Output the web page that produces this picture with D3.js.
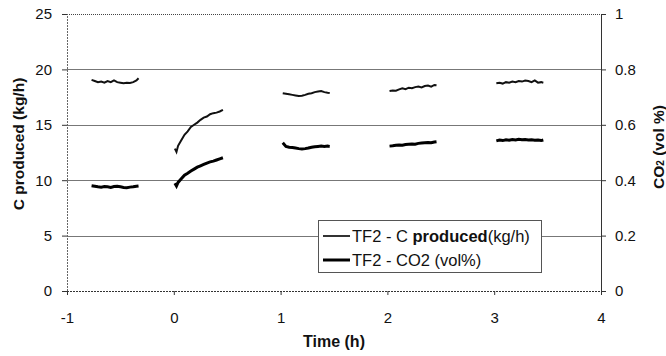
<!DOCTYPE html>
<html>
<head>
<meta charset="utf-8">
<script src="https://cdn.jsdelivr.net/npm/d3@7"></script>
<style>
  body { margin: 0; background: #fff; }
  text { font-family: "Liberation Sans", Arial, sans-serif; fill: #111; }
</style>
</head>
<body>
<div id="chart"></div>
<script>
// Time of each sample run (h)
var runTimes = [
  [-0.77, -0.74, -0.71, -0.68, -0.65, -0.62, -0.59, -0.56, -0.53, -0.50, -0.47, -0.44, -0.41, -0.38, -0.35, -0.33],
  [0.01, 0.025, 0.04, 0.07, 0.10, 0.13, 0.16, 0.19, 0.22, 0.25, 0.28, 0.31, 0.34, 0.37, 0.40, 0.43, 0.46],
  [1.02, 1.05, 1.08, 1.11, 1.14, 1.17, 1.20, 1.23, 1.26, 1.29, 1.32, 1.35, 1.38, 1.41, 1.44, 1.46],
  [2.02, 2.05, 2.08, 2.11, 2.14, 2.17, 2.20, 2.23, 2.26, 2.29, 2.32, 2.35, 2.38, 2.41, 2.44, 2.46],
  [3.02, 3.05, 3.08, 3.11, 3.14, 3.17, 3.20, 3.23, 3.26, 3.29, 3.32, 3.35, 3.38, 3.41, 3.44, 3.46]
];

// TF2 - C produced (kg/h), left axis
var cProduced = [
  [19.05, 18.95, 18.85, 18.9, 18.8, 18.95, 18.85, 19.0, 18.85, 18.8, 18.75, 18.8, 18.78, 18.85, 19.0, 19.2],
  [12.85, 12.55, 13.1, 13.6, 14.1, 14.4, 14.8, 15.0, 15.2, 15.45, 15.65, 15.75, 15.95, 16.05, 16.1, 16.2, 16.35],
  [17.85, 17.8, 17.75, 17.7, 17.65, 17.6, 17.62, 17.7, 17.8, 17.85, 17.95, 18.0, 18.05, 17.95, 17.9, 17.88],
  [18.05, 18.1, 18.08, 18.2, 18.3, 18.22, 18.35, 18.3, 18.4, 18.45, 18.38, 18.5, 18.55, 18.45, 18.6, 18.58],
  [18.75, 18.8, 18.72, 18.85, 18.8, 18.9, 18.85, 18.95, 18.9, 19.0, 18.95, 18.85, 19.0, 18.8, 18.85, 18.8]
];

// TF2 - CO2 (vol%), right axis
var co2 = [
  [0.380, 0.378, 0.376, 0.375, 0.377, 0.376, 0.374, 0.377, 0.378, 0.376, 0.374, 0.373, 0.375, 0.376, 0.378, 0.379],
  [0.389, 0.379, 0.392, 0.405, 0.418, 0.425, 0.433, 0.440, 0.447, 0.452, 0.457, 0.462, 0.466, 0.469, 0.473, 0.477, 0.481],
  [0.535, 0.522, 0.519, 0.518, 0.516, 0.514, 0.513, 0.514, 0.516, 0.519, 0.521, 0.522, 0.523, 0.522, 0.523, 0.522],
  [0.523, 0.524, 0.526, 0.527, 0.526, 0.529, 0.530, 0.531, 0.530, 0.533, 0.534, 0.535, 0.536, 0.535, 0.538, 0.539],
  [0.542, 0.545, 0.543, 0.546, 0.544, 0.547, 0.545, 0.548, 0.546, 0.547, 0.545, 0.546, 0.544, 0.545, 0.543, 0.545]
];

// Tick values
var xTicks = [-1, 0, 1, 2, 3, 4];
var yLeftTicks = [0, 5, 10, 15, 20, 25];
var yRightTicks = [0, 0.2, 0.4, 0.6, 0.8, 1];

var svgWidth = 666;
var svgHeight = 356;
var margin = { top: 14, right: 65, bottom: 65, left: 67 };
var width = svgWidth - margin.left - margin.right;
var height = svgHeight - margin.top - margin.bottom;

var svg = d3.select("#chart")
  .append("svg")
  .attr("width", svgWidth)
  .attr("height", svgHeight);

var chartGroup = svg.append("g")
  .attr("transform", `translate(${margin.left}, ${margin.top})`);

// scales
var xScale = d3.scaleLinear().domain([-1, 4]).range([0, width]);
var yLeft = d3.scaleLinear().domain([0, 25]).range([height, 0]);
var yRight = d3.scaleLinear().domain([0, 1]).range([height, 0]);

// horizontal gridlines
chartGroup.selectAll(".grid")
  .data(yLeftTicks.filter(d => d > 0 && d < 25))
  .enter()
  .append("line")
  .attr("x1", 0)
  .attr("x2", width)
  .attr("y1", d => Math.round(yLeft(d)) + 0.5)
  .attr("y2", d => Math.round(yLeft(d)) + 0.5)
  .attr("stroke", "#777")
  .attr("stroke-width", 1);

// top border (dotted)
chartGroup.append("line")
  .attr("x1", 0).attr("x2", width)
  .attr("y1", 0.5).attr("y2", 0.5)
  .attr("stroke", "#444")
  .attr("stroke-dasharray", "1,1");

// axes
var bottomAxis = d3.axisBottom(xScale).tickValues(xTicks).tickSize(4).tickPadding(17).tickFormat(d => String(d));
var leftAxis = d3.axisLeft(yLeft).tickValues(yLeftTicks).tickSize(5).tickPadding(10);
var rightAxis = d3.axisRight(yRight).tickValues(yRightTicks).tickSize(5).tickPadding(9).tickFormat(d => d === 0 || d === 1 ? d : d.toFixed(1));

var xAxis = chartGroup.append("g")
  .attr("transform", `translate(0, ${height})`)
  .call(bottomAxis);

var yAxisLeft = chartGroup.append("g")
  .call(leftAxis);

var yAxisRight = chartGroup.append("g")
  .attr("transform", `translate(${width}, 0)`)
  .call(rightAxis);

[xAxis, yAxisLeft, yAxisRight].forEach(function(ax) {
  ax.selectAll("text").style("font-size", "15px").attr("fill", "#111");
  ax.selectAll("line").attr("stroke", "#333");
  ax.select(".domain").attr("stroke", "#333");
});
xAxis.select(".domain").attr("stroke-dasharray", "2,1");
yAxisLeft.select(".domain").attr("stroke", "#666").attr("stroke-dasharray", "2,1");

// line generators
var lineLeft = d3.line()
  .x(d => xScale(d[0]))
  .y(d => yLeft(d[1]));

var lineRight = d3.line()
  .x(d => xScale(d[0]))
  .y(d => yRight(d[1]));

// C produced (thin line)
chartGroup.selectAll(".cLine")
  .data(runTimes.map((t, i) => t.map((v, j) => [v, cProduced[i][j]])))
  .enter()
  .append("path")
  .attr("d", lineLeft)
  .attr("fill", "none")
  .attr("stroke", "#111")
  .attr("stroke-width", 2);

// CO2 (thick line)
chartGroup.selectAll(".co2Line")
  .data(runTimes.map((t, i) => t.map((v, j) => [v, co2[i][j]])))
  .enter()
  .append("path")
  .attr("d", lineRight)
  .attr("fill", "none")
  .attr("stroke", "#000")
  .attr("stroke-width", 3);

// axis titles
chartGroup.append("text")
  .attr("x", width / 2)
  .attr("y", height + 56)
  .attr("text-anchor", "middle")
  .style("font-size", "16px")
  .style("font-weight", "bold")
  .text("Time (h)");

svg.append("text")
  .attr("transform", "translate(18, 144) rotate(-90)")
  .attr("text-anchor", "middle")
  .attr("dominant-baseline", "central")
  .style("font-size", "15.5px")
  .style("font-weight", "bold")
  .text("C produced (kg/h)");

var rightTitle = svg.append("text")
  .attr("transform", "translate(658, 147) rotate(-90)")
  .attr("text-anchor", "middle")
  .attr("dominant-baseline", "central")
  .style("font-size", "15.5px")
  .style("font-weight", "bold");
rightTitle.append("tspan").text("CO");
rightTitle.append("tspan").attr("baseline-shift", "-25%").style("font-size", "10px").text("2");
rightTitle.append("tspan").text(" (vol %)");

// legend
var legend = svg.append("g")
  .attr("transform", "translate(318, 220)");

legend.append("rect")
  .attr("x", 0.5).attr("y", 0.5)
  .attr("width", 223).attr("height", 52)
  .attr("fill", "#fff")
  .attr("stroke", "#555");

var legendItems = [
  { width: 1.6, y: 16 },
  { width: 3, y: 40 }
];

legend.selectAll(".legLine")
  .data(legendItems)
  .enter()
  .append("line")
  .attr("x1", 5).attr("x2", 32)
  .attr("y1", d => d.y).attr("y2", d => d.y)
  .attr("stroke", "#000")
  .attr("stroke-width", d => d.width);

var leg1 = legend.append("text")
  .attr("x", 34).attr("y", 16)
  .attr("dominant-baseline", "central")
  .style("font-size", "16.5px");
leg1.append("tspan").text("TF2 - C ");
leg1.append("tspan").style("font-weight", "bold").text("produced");
leg1.append("tspan").text("(kg/h)");

legend.append("text")
  .attr("x", 34).attr("y", 40)
  .attr("dominant-baseline", "central")
  .style("font-size", "16.5px")
  .text("TF2 - CO2 (vol%)");
</script>
</body>
</html>
